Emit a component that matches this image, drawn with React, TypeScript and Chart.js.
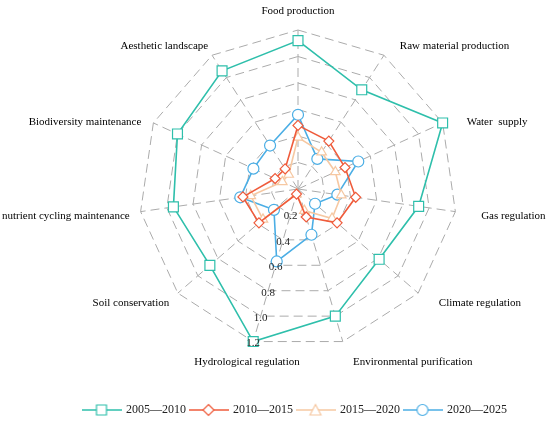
import { useEffect, useRef } from "react";
import { Chart, registerables } from "chart.js";

Chart.register(...registerables);

// ecosystem services, clockwise from the top
const services = [
  "Food production",
  "Raw material production",
  "Water  supply",
  "Gas regulation",
  "Climate regulation",
  "Environmental purification",
  "Hydrological regulation",
  "Soil conservation",
  "nutrient cycling maintenance",
  "Biodiversity maintenance",
  "Aesthetic landscape",
];

const periods = ["2005—2010", "2010—2015", "2015—2020", "2020—2025"];

const values0510 = [1.12, 0.89, 1.2, 0.92, 0.81, 1.0, 1.2, 0.88, 0.95, 1.0, 1.06];
const values1015 = [0.48, 0.43, 0.39, 0.44, 0.39, 0.22, 0.04, 0.39, 0.42, 0.19, 0.18];
const values1520 = [0.39, 0.33, 0.31, 0.33, 0.34, 0.17, 0.04, 0.35, 0.36, 0.13, 0.13];
const values2025 = [0.56, 0.27, 0.5, 0.3, 0.17, 0.36, 0.57, 0.24, 0.44, 0.37, 0.39];

const rTicks = [0.2, 0.4, 0.6, 0.8, 1.0, 1.2];
const tickAxis = 6; // tick labels run along "Hydrological regulation"

const SERIF = '"Liberation Serif", "Times New Roman", serif';
const colors = ["#2ebfab", "#ef5b3b", "#f6c8a2", "#4baee5"];
const shapes = ["rect", "rectRot", "triangle", "circle"];
const radii = [7, 5, 5.5, 5.5];
const labelAlign = ["center", "left", "left", "left", "left", "left", "center", "right", "right", "right", "right"];
const gridGrey = "#ababab";

// legend swatch: a short line with the marker in the middle
const makeIcon = (shape, color) => {
  const c = document.createElement("canvas");
  c.width = 40;
  c.height = 14;
  const ctx = c.getContext("2d");
  ctx.strokeStyle = color;
  ctx.lineWidth = 1.5;
  ctx.beginPath();
  ctx.moveTo(0, 7);
  ctx.lineTo(40, 7);
  ctx.stroke();
  ctx.fillStyle = "#fff";
  ctx.lineWidth = 1.2;
  ctx.beginPath();
  if (shape === "rect") {
    ctx.rect(15, 2, 10, 10);
  } else if (shape === "rectRot") {
    ctx.moveTo(20, 1.5);
    ctx.lineTo(25.5, 7);
    ctx.lineTo(20, 12.5);
    ctx.lineTo(14.5, 7);
    ctx.closePath();
  } else if (shape === "triangle") {
    ctx.moveTo(20, 1.5);
    ctx.lineTo(25.5, 12);
    ctx.lineTo(14.5, 12);
    ctx.closePath();
  } else {
    ctx.arc(20, 7, 5.5, 0, Math.PI * 2);
  }
  ctx.fill();
  ctx.stroke();
  return c;
};

// fixed radar frame so the rings sit where the reference has them
const radarFrame = {
  id: "radarFrame",
  afterLayout(chart) {
    const s = chart.scales.r;
    s.xCenter = 298;
    s.yCenter = 189;
    s.drawingArea = 159;
  },
};

const axisText = {
  id: "axisText",
  afterDraw(chart) {
    const scale = chart.scales.r;
    const ctx = chart.ctx;
    ctx.save();
    ctx.font = `11px ${SERIF}`;
    ctx.fillStyle = "#000";
    ctx.textBaseline = "middle";
    services.forEach((name, i) => {
      const align = labelAlign[i];
      const a = scale.getIndexAngle(i);
      const p = scale.getPointPosition(i, scale.drawingArea + 22);
      const dx = align === "left" ? 4 : align === "right" ? 8 : 0;
      const dy = 3 + 14 * Math.cos(a) * Math.abs(Math.sin(a));
      const w = ctx.measureText(name).width;
      let x = p.x + dx;
      if (align === "right") x = Math.max(x, w + 2);
      if (align === "left") x = Math.min(x, chart.width - w - 2);
      ctx.textAlign = align;
      ctx.fillText(name, x, p.y + dy);
    });
    ctx.textAlign = "center";
    ctx.fillStyle = "#222";
    rTicks.forEach((v) => {
      const p = scale.getPointPositionForValue(tickAxis, v);
      ctx.fillText(v.toFixed(1), p.x, p.y + 2);
    });
    ctx.restore();
  },
};

const App = () => {
  const canvasRef = useRef(null);
  const chartRef = useRef(null);

  useEffect(() => {
    document.body.style.margin = "0";
    const series = [values0510, values1015, values1520, values2025];
    const icons = shapes.map((s, i) => makeIcon(s, colors[i]));

    if (chartRef.current) {
      chartRef.current.destroy();
    }

    const ctx = canvasRef.current.getContext("2d");
    chartRef.current = new Chart(ctx, {
      type: "radar",
      data: {
        labels: services,
        datasets: series.map((data, i) => ({
          label: periods[i],
          data,
          borderColor: colors[i],
          backgroundColor: colors[i],
          borderWidth: 1.6,
          fill: false,
          pointStyle: shapes[i],
          pointRadius: radii[i],
          pointBorderWidth: 1.2,
          pointBorderColor: colors[i],
          pointBackgroundColor: "#fff",
        })),
      },
      options: {
        animation: false,
        responsive: true,
        maintainAspectRatio: false,
        layout: { padding: { left: 40, right: 0, top: 0, bottom: -5 } },
        plugins: {
          tooltip: { enabled: false },
          legend: {
            position: "bottom",
            labels: {
              usePointStyle: true,
              pointStyleWidth: 37,
              padding: 4,
              font: { family: SERIF, size: 12 },
              color: "#222",
              generateLabels: (chart) =>
                chart.data.datasets.map((ds, i) => ({
                  text: ds.label,
                  pointStyle: icons[i],
                  fillStyle: "#fff",
                  strokeStyle: colors[i],
                  fontColor: "#222",
                  lineWidth: 0,
                  hidden: false,
                  datasetIndex: i,
                })),
            },
          },
        },
        scales: {
          r: {
            min: 0,
            max: 1.2,
            ticks: { display: false, stepSize: 0.2 },
            pointLabels: { display: false },
            grid: { color: gridGrey, lineWidth: 1, borderDash: [9, 5] },
            border: { dash: [9, 5] },
            angleLines: { color: gridGrey, lineWidth: 1, borderDash: [9, 5] },
          },
        },
      },
      plugins: [radarFrame, axisText],
    });

    return () => {
      if (chartRef.current) {
        chartRef.current.destroy();
        chartRef.current = null;
      }
    };
  }, []);

  return (
    <div style={{ width: 550, height: 421, position: "relative" }}>
      <canvas ref={canvasRef} />
    </div>
  );
};

export default App;
